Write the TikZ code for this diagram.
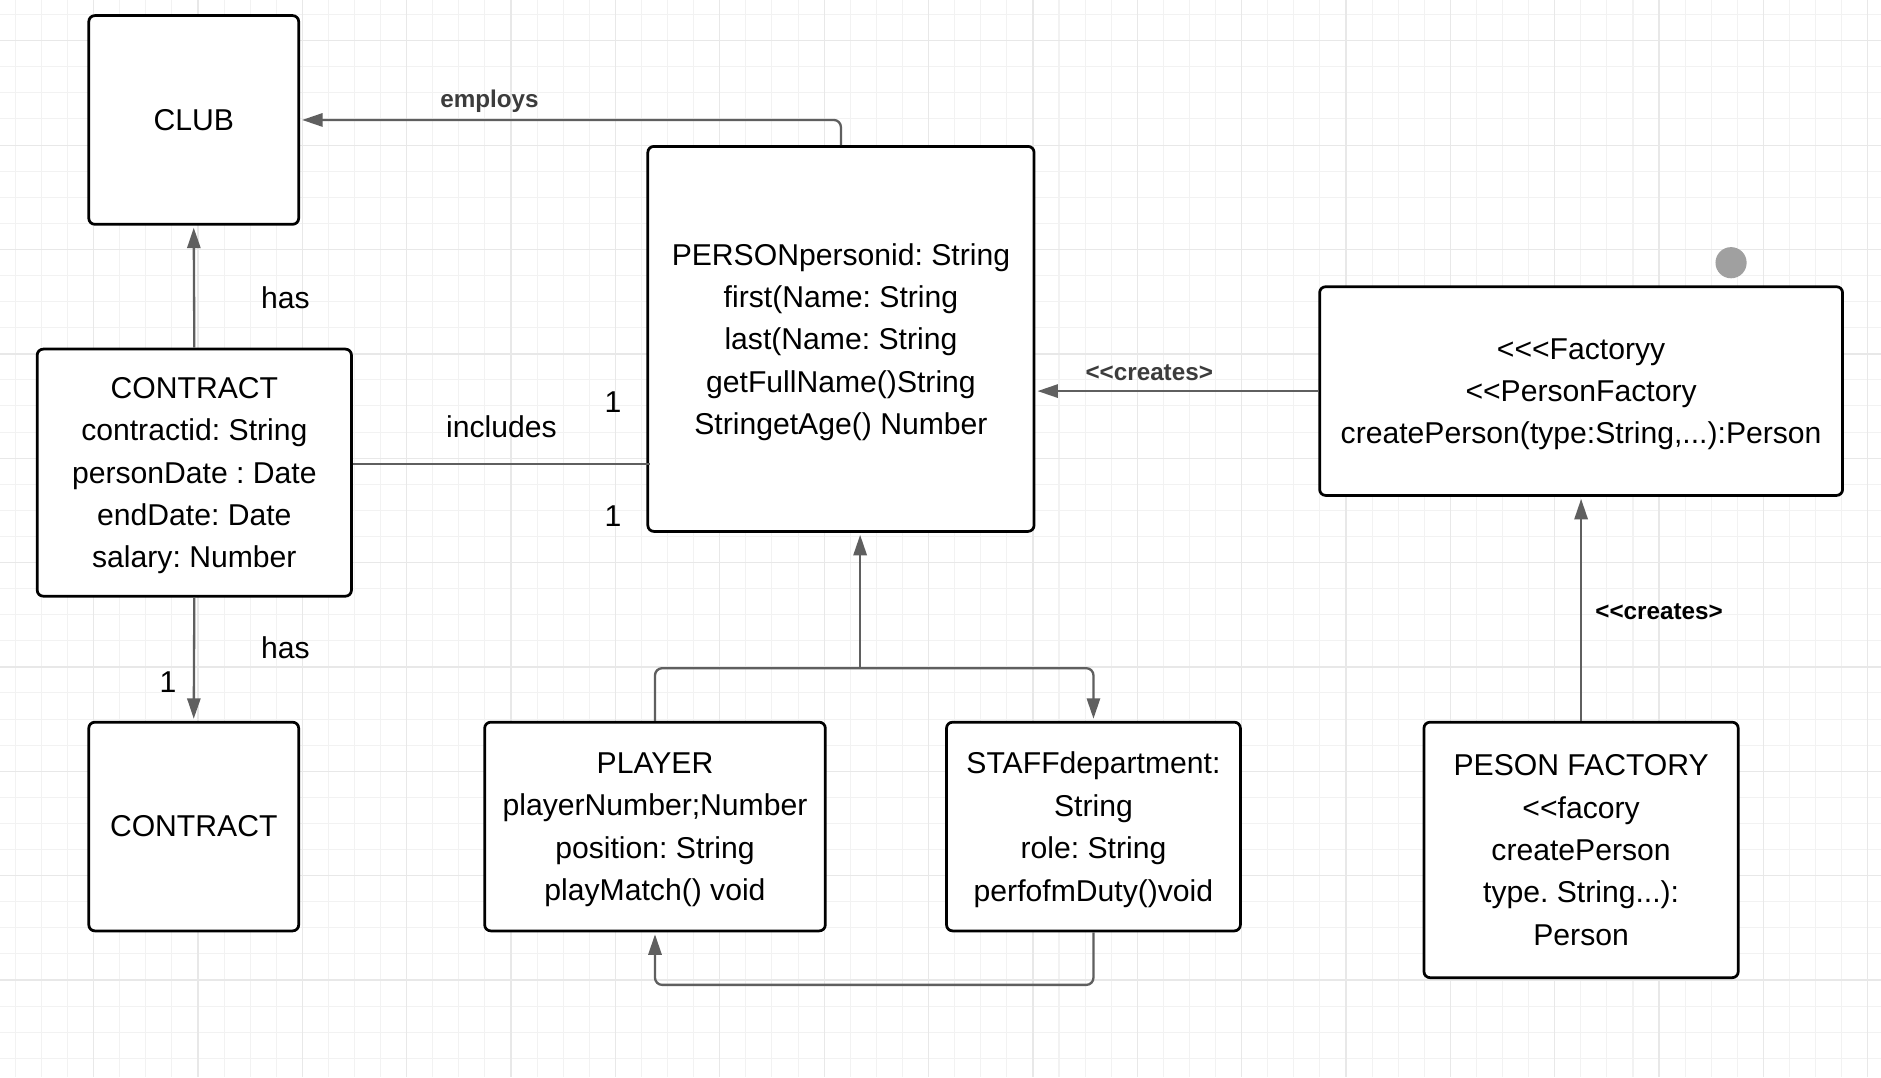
\documentclass[tikz,border=0pt]{standalone}
\usepackage{fontspec}
\setmainfont{Liberation Sans}[Ligatures=TeXOff]
\usetikzlibrary{arrows.meta,calc}
\definecolor{gridminor}{HTML}{F2F2F2}
\definecolor{gridmajor}{HTML}{E8E8E8}
\definecolor{conncol}{HTML}{5F5F5F}
\definecolor{dotcol}{HTML}{A0A0A0}
\definecolor{lblgrey}{HTML}{3C3C3C}
\frenchspacing
\begin{document}
\frenchspacing
\begin{tikzpicture}[x=0.02cm,y=-0.02cm,
  box/.style={draw=black, line width=1.3pt, rounded corners=0.1cm, fill=white,
    align=center, inner sep=0pt, font=\fontsize{14.3}{20.1}\selectfont\frenchspacing},
  multi/.style={text depth=-0.3pt},
  conn/.style={draw=conncol, line width=1.1pt, rounded corners=0.12cm,
    -{Triangle[length=0.34cm,width=0.22cm]}, shorten >=1pt},
  plainconn/.style={draw=conncol, line width=1.1pt},
  lbl/.style={font=\fontsize{14.3}{17}\selectfont, inner sep=0pt},
  blbl/.style={font=\bfseries\fontsize{11.5}{14}\selectfont, inner sep=0pt},
  gminor/.style={draw=gridminor, line width=0.5pt},
  gmajor/.style={draw=gridmajor, line width=0.6pt}]
\useasboundingbox (0,0) rectangle (1568,898);
\fill[white] (0,0) rectangle (1568,898);
% grid
\foreach \i in {0,...,71} {\draw[gminor] ({12.75+21.75*\i},0) -- ++(0,898);}
\foreach \j in {0,...,41} {\draw[gminor] (0,{12.15+21.75*\j}) -- ++(1568,0);}
\foreach \i in {0,...,17} {\draw[gmajor] ({78+87*\i},0) -- ++(0,898);}
\foreach \j in {0,...,10} {\draw[gmajor] (0,{34+87*\j}) -- ++(1568,0);}

% nodes
\node[box, minimum width=3.5cm, minimum height=3.48cm] (club) at (161.5,100) {CLUB};
\node[box, multi, minimum width=5.24cm, minimum height=4.12cm] (contract) at (162,394)
  {CONTRACT\\contractid: String\\personDate : Date\\endDate: Date\\salary: Number};
\node[box, minimum width=3.5cm, minimum height=3.48cm] (contract2) at (161.5,689) {CONTRACT};
\node[box, text depth=-6.4pt, minimum width=6.44cm, minimum height=6.42cm] (person) at (701,282.5)
  {PERSONpersonid: String\\first(Name: String\\last(Name: String\\getFullName()String\\StringetAge() Number};
\node[box, multi, minimum width=8.72cm, minimum height=3.48cm] (factory) at (1318,326)
  {<<<Factoryy\\<<PersonFactory\\createPerson(type:String,...):Person};
\node[box, multi, minimum width=5.68cm, minimum height=3.48cm] (player) at (546,689)
  {PLAYER\\playerNumber;Number\\position: String\\playMatch() void};
\node[box, multi, minimum width=4.9cm, minimum height=3.48cm] (staff) at (911.5,689)
  {STAFFdepartment:\\String\\role: String\\perfofmDuty()void};
\node[box, text depth=-3pt, minimum width=5.24cm, minimum height=4.26cm] (pfact) at (1318,708.5)
  {PESON FACTORY\\<<facory\\createPerson\\type. String...):\\Person};
\fill[dotcol] (1443,219) circle (0.26cm);

% helper coordinates
\coordinate (incy) at (0,387);
\coordinate (bar) at (0,557);
\coordinate (joint) at (717,557);
\coordinate (low) at (0,821);

% connectors
\draw[conn] (person.north) |- (club.east);
\draw[conn] (contract.north) -- (club.south);
\draw[plainconn] (contract.east |- incy) -- ($(person.west |- incy)+(3,0)$);
\draw[conn] (contract.south) -- (contract2.north);
\draw[conn] (factory.west) -- (factory.west -| person.east);
\draw[conn] (pfact.north) -- (factory.south);
\draw[conn] (player.north) -- (player.north |- bar) -- (staff.north |- bar) -- (staff.north);
\draw[conn] (joint) -- (joint |- person.south);
\draw[conn] (staff.south) -- (staff.south |- low) -- (player.south |- low) -- (player.south);

% labels
\node[blbl, text=lblgrey] (lemploys) at (408,84) {employs};
\node[lbl] (lhas1) at (238,248) {has};
\node[lbl] (lhas2) at (238,540) {has};
\node[lbl] (lincl) at (418,356) {includes};
\node[lbl] (lone1) at (511,335) {1};
\node[lbl] (lone2) at (511,430) {1};
\node[lbl] (lone3) at (140,569) {1};
\node[blbl, text=lblgrey] (lcre1) at (958,311) {<<creates>};
\node[blbl, text=black] (lcre2) at (1383,510) {<<creates>};
\end{tikzpicture}
\end{document}
